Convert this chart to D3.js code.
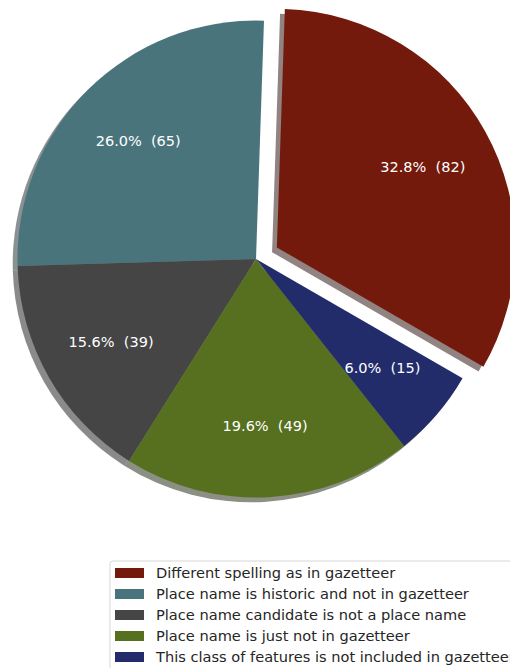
<!DOCTYPE html>
<html>
<head>
<meta charset="utf-8">
<script src="https://cdn.jsdelivr.net/npm/d3@7"></script>
<style>
  html, body { margin: 0; padding: 0; background: #fff; }
  svg { display: block; font-family: "DejaVu Sans", sans-serif; }
</style>
</head>
<body>
<svg id="chart" width="510" height="668"></svg>
<script>
// Reasons a place name candidate could not be matched
const categories = [
  "Different spelling as in gazetteer",
  "Place name is historic and not in gazetteer",
  "Place name candidate is not a place name",
  "Place name is just not in gazetteer",
  "This class of features is not included in gazetteer"
];
const counts = [82, 65, 39, 49, 15];
const colors = ["#731a0d", "#4a747c", "#454545", "#567020", "#222c6b"];
const explode = [0.1, 0, 0, 0, 0];

const W = 510, H = 668;
const cx = 256, cy = 259, R = 238.5;
const startDeg = -30;               // first wedge starts here, counter-clockwise
const pctDistance = 0.7;
const shadowOff = 0.02 * R;

const svg = d3.select("#chart");
const total = d3.sum(counts);

// d3 angles run clockwise from 12 o'clock; convert a counter-clockwise start at 3 o'clock
const a0 = Math.PI / 2 - startDeg * Math.PI / 180;
const pie = d3.pie().sort(null).value(d => d).startAngle(a0).endAngle(a0 - 2 * Math.PI);
const arcs = pie(counts);
const arc = d3.arc().innerRadius(0).outerRadius(R);

function offsetOf(d, i) {
  const mid = (d.startAngle + d.endAngle) / 2;
  const e = explode[i] * R;
  return [e * Math.sin(mid), -e * Math.cos(mid)];
}

const g = svg.append("g").attr("transform", `translate(${cx},${cy})`);

// drop shadows under every wedge
g.append("g").selectAll("path")
  .data(arcs)
  .join("path")
  .attr("d", arc)
  .attr("transform", (d, i) => {
    const [ox, oy] = offsetOf(d, i);
    return `translate(${ox - shadowOff},${oy + shadowOff})`;
  })
  .attr("fill", (d, i) => {
    const c = d3.rgb(colors[i]);
    return d3.rgb(c.r * 0.3, c.g * 0.3, c.b * 0.3).toString();
  })
  .attr("fill-opacity", 0.5);

// wedges
g.append("g").selectAll("path")
  .data(arcs)
  .join("path")
  .attr("d", arc)
  .attr("transform", (d, i) => {
    const [ox, oy] = offsetOf(d, i);
    return `translate(${ox},${oy})`;
  })
  .attr("fill", (d, i) => colors[i]);

// percentage + count labels
const labelArc = d3.arc().innerRadius(R * pctDistance).outerRadius(R * pctDistance);
g.append("g").selectAll("text")
  .data(arcs)
  .join("text")
  .attr("transform", (d, i) => {
    const [ox, oy] = offsetOf(d, i);
    const [lx, ly] = labelArc.centroid(d);
    return `translate(${lx + ox},${ly + oy})`;
  })
  .attr("text-anchor", "middle")
  .attr("dy", "0.36em")
  .attr("fill", "#ffffff")
  .attr("font-size", 14.5)
  .style("white-space", "pre")
  .text(d => `${(d.value / total * 100).toFixed(1)}%  (${d.value})`);

// legend
const legX = 110, legY = 561, rowH = 21;
const legend = svg.append("g");
legend.append("rect")
  .attr("x", legX).attr("y", legY)
  .attr("width", 420).attr("height", 130)
  .attr("rx", 3)
  .attr("fill", "#ffffff").attr("fill-opacity", 0.8)
  .attr("stroke", "#d6d6d6").attr("stroke-width", 1);

const rows = legend.selectAll("g.row")
  .data(categories)
  .join("g")
  .attr("class", "row")
  .attr("transform", (d, i) => `translate(${legX}, ${legY + 12 + i * rowH})`);

rows.append("rect")
  .attr("x", 5).attr("y", -5)
  .attr("width", 29).attr("height", 10)
  .attr("fill", (d, i) => colors[i]);

rows.append("text")
  .attr("x", 46).attr("dy", "0.36em")
  .attr("font-size", 14.6)
  .attr("fill", "#262626")
  .text(d => d);
</script>
</body>
</html>
